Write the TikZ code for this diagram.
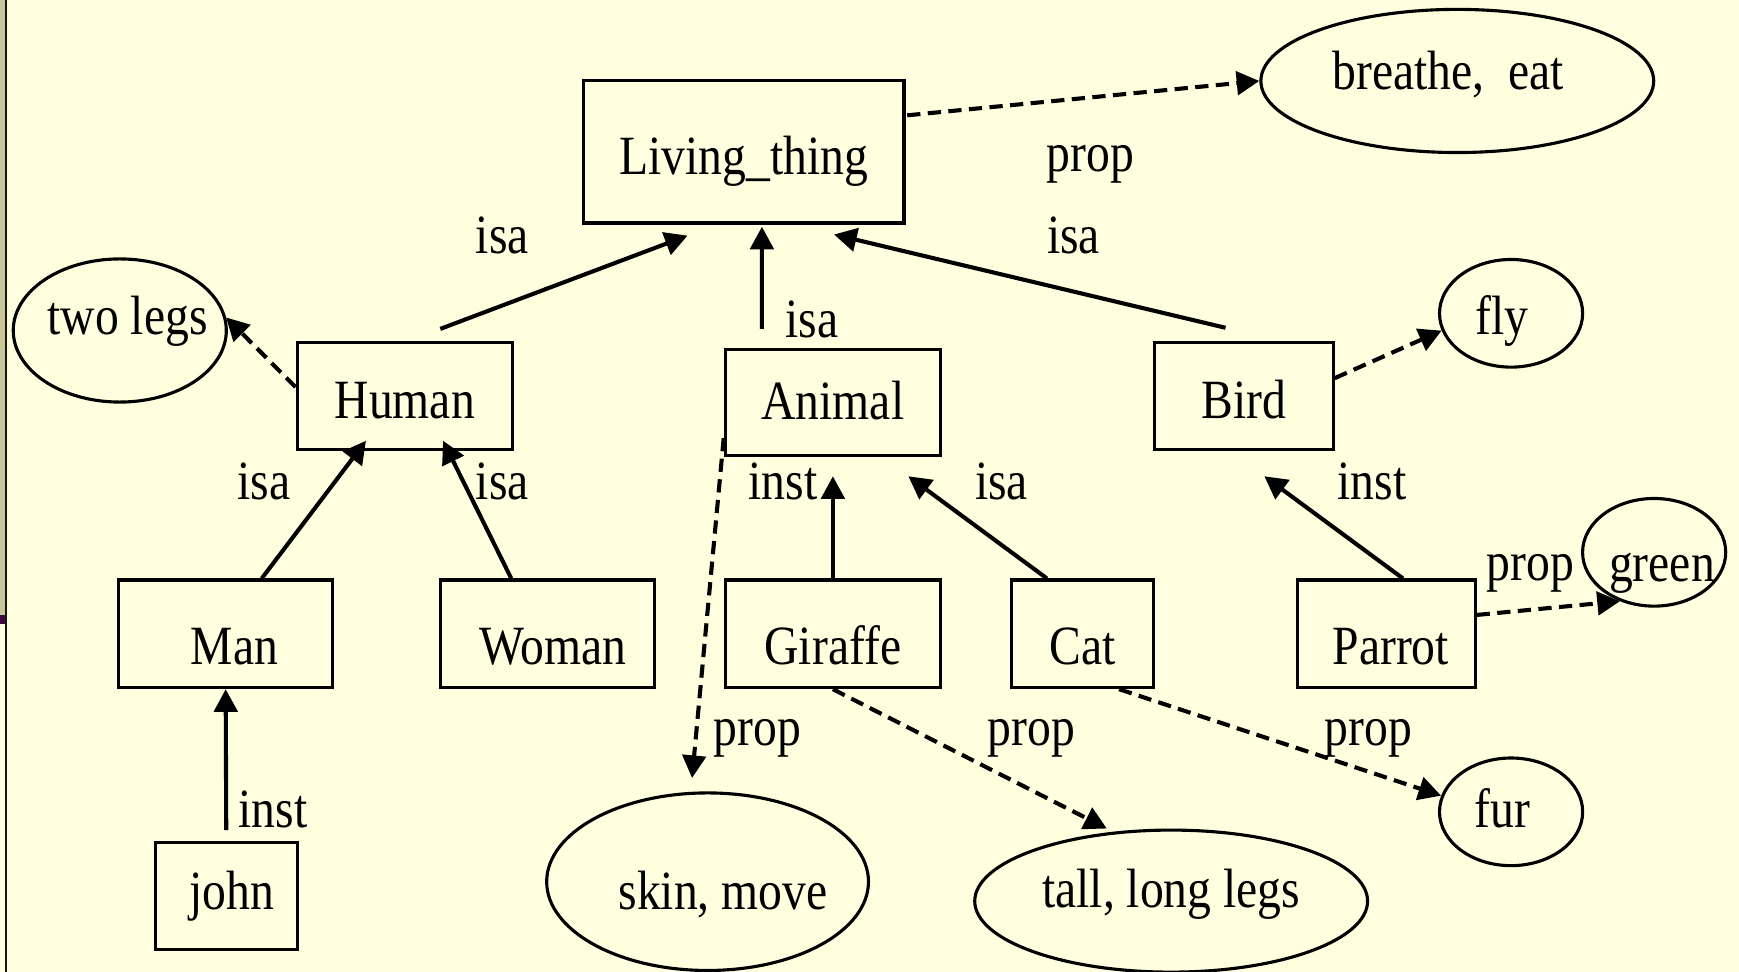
\documentclass[tikz,border=0pt]{standalone}
\usepackage{fontspec}
\setmainfont{Liberation Serif}[FakeStretch=0.86]
\usetikzlibrary{arrows.meta,shapes.geometric}
\definecolor{slidebg}{HTML}{FFFFE0}
\definecolor{slidebar}{HTML}{C8C596}
\definecolor{slideline}{HTML}{141414}
\definecolor{slidemark}{HTML}{3D0A3F}
\begin{document}
\begin{tikzpicture}[x=0.01cm, y=-0.01cm, line width=0.8pt, >={Triangle[length=5.8pt,width=6pt]},
  box node/.style={rectangle,draw,inner sep=0pt,text depth=0pt},
  prop node/.style={ellipse,draw,inner sep=0pt,text depth=0pt},
  lbl node/.style={inner sep=0pt,anchor=base}]
\useasboundingbox (0,0) rectangle (1568,876);
\fill[slidebg] (0,0) rectangle (1568,876);
\fill[slidebar] (0,0) rectangle (4.8,554.5);
\fill[slidemark] (0,554.5) rectangle (4.8,562.6);
\fill[slideline] (4.8,0) rectangle (6.6,876);
\begin{scope}[every node/.style={font=\fontsize{14.2}{17}\selectfont}]
% frames
\node[box node, minimum width=2.89cm, minimum height=1.28cm, text height=.4cm] (living) at (670.5,137) {Living\_thing};
\node[box node, minimum width=1.94cm, minimum height=.96cm, text height=.4cm] (human) at (365,357) {Human};
\node[box node, minimum width=1.94cm, minimum height=.96cm, text height=.3cm] (animal) at (751,363) {Animal};
\node[box node, minimum width=1.61cm, minimum height=.96cm, text height=.4cm] (bird) at (1121.5,357) {Bird};
\node[box node, minimum width=1.93cm, minimum height=.97cm, text height=.56cm] (man) at (203.5,571.5) {\hspace*{.16cm}Man};
\node[box node, minimum width=1.93cm, minimum height=.97cm, text height=.56cm] (woman) at (493.5,571.5) {\hspace*{.1cm}Woman};
\node[box node, minimum width=1.94cm, minimum height=.97cm, text height=.56cm] (giraffe) at (751,571.5) {Giraffe};
\node[box node, minimum width=1.28cm, minimum height=.97cm, text height=.56cm] (cat) at (976,571.5) {Cat};
\node[box node, minimum width=1.60cm, minimum height=.97cm, text height=.56cm] (parrot) at (1250,571.5) {\hspace*{.08cm}Parrot};
\node[box node, minimum width=1.28cm, minimum height=.96cm, text height=.24cm] (john) at (204,808) {\hspace*{.1cm}john};
% properties
\node[prop node, minimum width=3.54cm, minimum height=1.29cm, text height=.15cm] (breathe) at (1314,73) {breathe,~~eat\hspace*{.16cm}};
\node[prop node, minimum width=1.92cm, minimum height=1.29cm, text height=.08cm, inner xsep=-.3cm] (twolegs) at (108,298) {\hspace*{.14cm}two legs};
\node[prop node, minimum width=1.29cm, minimum height=.97cm, text height=.39cm] (fly) at (1362.5,282.5) {fly\hspace*{.16cm}};
\node[prop node, minimum width=1.29cm, minimum height=.97cm, text height=.52cm, inner xsep=-.3cm] (green) at (1491.5,498) {\hspace*{.14cm}green};
\node[prop node, minimum width=2.90cm, minimum height=1.60cm, text height=.5cm, inner xsep=-.3cm] (skin) at (638,795) {\hspace*{.28cm}skin, move};
\node[prop node, minimum width=3.54cm, minimum height=1.28cm, text height=.12cm] (tall) at (1056,812.5) {tall, long legs};
\node[prop node, minimum width=1.29cm, minimum height=.97cm, text height=.28cm] (fur) at (1362.5,732) {fur\hspace*{.16cm}};
% link names
\node[lbl node] (isaHuman) at (453,229) {isa};
\node[lbl node] (isaAnimal) at (732,304) {isa};
\node[lbl node] (isaBird) at (968,229) {isa};
\node[lbl node] (propLiving) at (983,155) {prop};
\node[lbl node] (isaMan) at (238,450) {isa};
\node[lbl node] (isaWoman) at (453,450) {isa};
\node[lbl node] (instGiraffe) at (706,450) {inst};
\node[lbl node] (isaCat) at (903,450) {isa};
\node[lbl node] (instParrot) at (1237,450) {inst};
\node[lbl node] (propParrot) at (1380,523) {prop};
\node[lbl node] (instJohn) at (246,746) {inst};
\node[lbl node] (propAnimal) at (683,672) {prop};
\node[lbl node] (propGiraffe) at (930,672) {prop};
\node[lbl node] (propCat) at (1234,672) {prop};
\end{scope}
\begin{scope}[every edge/.style={draw=black,line width=1.05pt,->}]
\draw ([xshift=.32cm,yshift=.11cm]human.north) edge ([xshift=-.505cm,yshift=-.1cm]living.south);
\draw ([xshift=-.64cm,yshift=.17cm]animal.north) edge ([xshift=.165cm,yshift=-.02cm]living.south);
\draw ([xshift=-.165cm,yshift=.12cm]bird.north) edge ([xshift=.815cm,yshift=-.09cm]living.south);
\draw ([xshift=.325cm]man.north) edge ([xshift=-.35cm,yshift=.09cm]human.south);
\draw ([xshift=-.325cm]woman.north) edge ([xshift=.345cm,yshift=.09cm]human.south);
\draw (giraffe.north) edge ([yshift=-.17cm]animal.south);
\draw ([xshift=-.32cm]cat.north) edge ([xshift=.68cm,yshift=-.17cm]animal.south);
\draw ([xshift=.15cm]parrot.north) edge ([xshift=.185cm,yshift=-.23cm]bird.south);
\draw ([yshift=.1cm]john.north) edge (man.south);
\end{scope}
\begin{scope}[every edge/.style={draw=black,line width=1.05pt,->,dash pattern=on 3.4pt off 1.9pt}]
\draw ([xshift=.015cm,yshift=.33cm]living.east) edge (breathe.west);
\draw ([yshift=.08cm]human.west) edge (twolegs.7);
\draw ([yshift=.16cm]bird.east) edge (fly.194);
\draw ([yshift=.17cm]parrot.east) edge (green.235);
\draw ([yshift=-.32cm]animal.west) edge ([xshift=-.14cm,yshift=.12cm]skin.north);
\draw (giraffe.south) edge ([xshift=-.58cm]tall.north);
\draw ([xshift=.33cm]cat.south) edge (fur.167);
\end{scope}
\end{tikzpicture}
\end{document}
